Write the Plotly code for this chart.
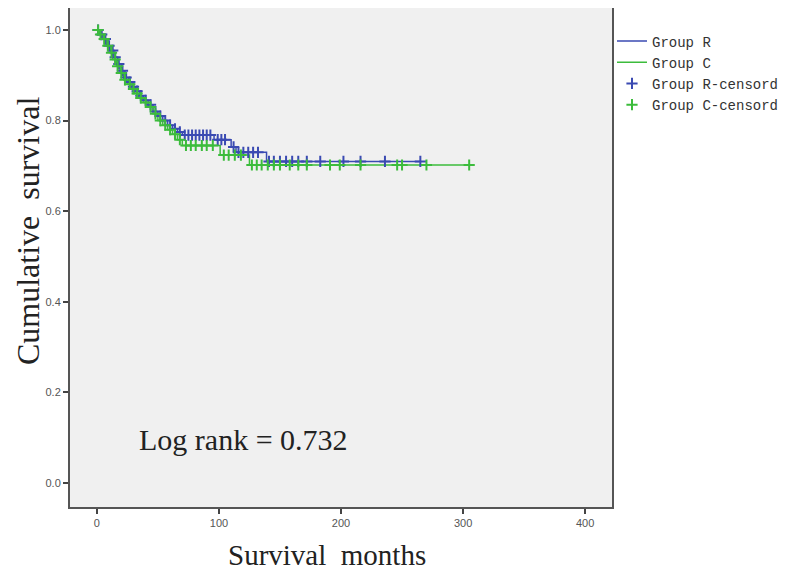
import numpy as np
import plotly.graph_objects as go

# ---- data ----
r_times = [0, 3, 6, 9, 12, 14, 17, 20, 23, 26, 29, 32, 35, 38, 42, 46, 50, 54, 58, 62, 66, 70, 96, 110, 114, 139, 265]
r_surv = [1.0, 0.99, 0.98, 0.965, 0.955, 0.94, 0.925, 0.91, 0.895, 0.885, 0.875, 0.865, 0.855, 0.845, 0.835, 0.82,
          0.81, 0.80, 0.79, 0.782, 0.775, 0.768, 0.758, 0.742, 0.73, 0.71, 0.71]

c_times = [0, 2, 5, 8, 11, 13, 16, 19, 22, 25, 28, 31, 34, 38, 42, 46, 50, 54, 58, 62, 66, 70, 101, 125, 305]
c_surv = [1.0, 0.99, 0.98, 0.965, 0.95, 0.935, 0.92, 0.905, 0.89, 0.88, 0.87, 0.86, 0.85, 0.84, 0.83, 0.815,
          0.80, 0.79, 0.78, 0.77, 0.758, 0.745, 0.724, 0.702, 0.702]

r_censor = [1, 4, 7, 10, 13, 15, 18, 21, 24, 27, 30, 33, 36, 40, 44, 48, 52, 56, 60, 64, 68, 72, 75, 78, 81, 84, 87,
            90, 93, 99, 102, 105, 112, 116, 120, 124, 128, 132, 141, 145, 150, 155, 160, 165, 172, 183, 202, 216,
            236, 265]
c_censor = [1, 3, 6, 9, 12, 15, 17, 20, 23, 27, 30, 33, 36, 40, 44, 48, 52, 56, 60, 64, 68, 73, 77, 81, 86, 90, 95,
            104, 108, 113, 118, 127, 131, 135, 140, 145, 150, 158, 165, 172, 191, 199, 216, 246, 250, 270, 305]

x_ticks = [0, 100, 200, 300, 400]
y_ticks = [0.0, 0.2, 0.4, 0.6, 0.8, 1.0]
log_rank_text = "Log rank = 0.732"
x_title = "Survival\u00a0\u00a0months"
y_title = "Cumulative\u00a0\u00a0survival"

BLUE = "#3a4ab2"
GREEN = "#3cbc3c"
SERIF = "Liberation Serif, Times New Roman, serif"


def step_lookup(times, surv, t):
    idx = np.searchsorted(np.array(times), np.array(t), side="right") - 1
    return [surv[i] for i in idx]


fig = go.Figure()
fig.add_trace(go.Scatter(x=r_times, y=r_surv, mode="lines", line=dict(color=BLUE, width=1.5, shape="hv"),
                         name="Group R"))
fig.add_trace(go.Scatter(x=c_times, y=c_surv, mode="lines", line=dict(color=GREEN, width=1.5, shape="hv"),
                         name="Group C"))
fig.add_trace(go.Scatter(x=r_censor, y=step_lookup(r_times, r_surv, r_censor), mode="markers",
                         marker=dict(symbol="cross-thin", size=8, color=BLUE, line=dict(color=BLUE, width=2)),
                         name="Group R-censord"))
fig.add_trace(go.Scatter(x=c_censor, y=step_lookup(c_times, c_surv, c_censor), mode="markers",
                         marker=dict(symbol="cross-thin", size=8, color=GREEN, line=dict(color=GREEN, width=2)),
                         name="Group C-censord"))

fig.add_annotation(x=33, y=0.095, xref="x", yref="y", text=log_rank_text, showarrow=False, xanchor="left",
                   font=dict(family=SERIF, size=30, color="#222"))
# axis titles (placed as annotations to match the off-centre placement of the reference)
fig.add_annotation(x=0.474, y=-0.096, xref="paper", yref="paper", text=x_title, showarrow=False,
                   xanchor="center", yanchor="middle", font=dict(family=SERIF, size=29, color="#222"))
fig.add_annotation(x=-0.0775, y=0.555, xref="paper", yref="paper", text=y_title, showarrow=False, borderpad=0,
                   textangle=-90, xanchor="center", yanchor="middle", font=dict(family=SERIF, size=32, color="#222"))

axis_common = dict(showline=True, linecolor="#555", linewidth=2, mirror=True, ticks="outside", ticklen=5,
                   tickwidth=1.5, tickcolor="#444", showgrid=False, zeroline=False, automargin=False,
                   tickfont=dict(family="Liberation Sans, Arial, sans-serif", size=11, color="#555"))

fig.update_layout(
    width=779, height=564,
    margin=dict(l=62, r=175, t=0, b=65),
    paper_bgcolor="white", plot_bgcolor="#f0f0f0",
    xaxis=dict(range=[-22, 422], tickvals=x_ticks, ticktext=[str(v) for v in x_ticks], **axis_common),
    yaxis=dict(range=[-0.053, 1.0486], tickvals=y_ticks, ticktext=[f"{v:.1f}" for v in y_ticks], **axis_common),
    legend=dict(x=1.0, y=0.965, xanchor="left", yanchor="top", bgcolor="rgba(0,0,0,0)",
                font=dict(family="Liberation Mono, DejaVu Sans Mono, monospace", size=14, color="#333"),
                tracegroupgap=0, itemwidth=30),
    showlegend=True,
)

fig.write_html("out.html")
